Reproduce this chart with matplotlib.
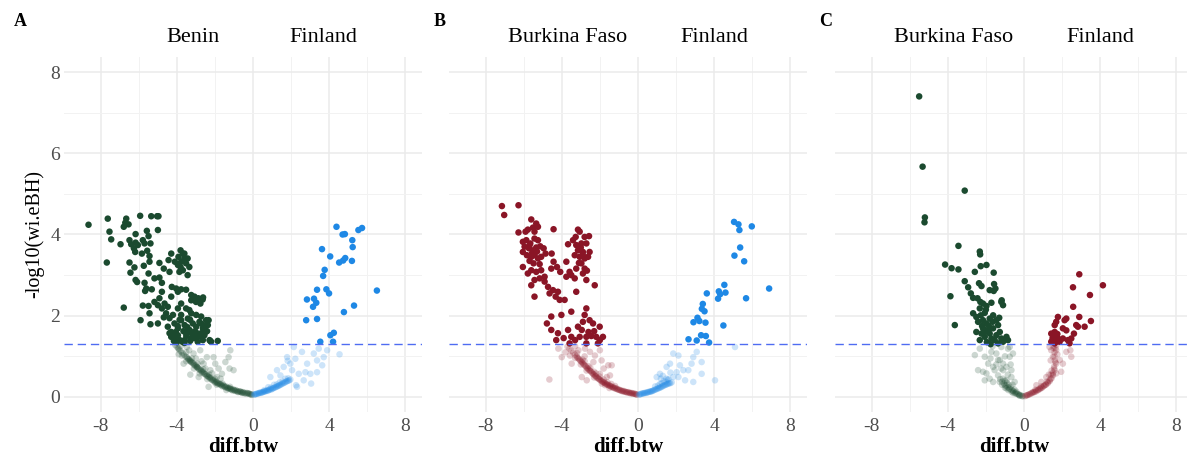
import numpy as np
import matplotlib
matplotlib.use("Agg")
import matplotlib.pyplot as plt

plt.rcParams['font.family'] = ['Liberation Serif', 'DejaVu Serif']

GREEN = "#1b4a2f"
RED = "#8a1526"
BLUE = "#1e88e5"
LINE = "#4f6cf2"
THRESH = 1.30103

# ---------------- panel A : Benin vs Finland ----------------
a_left_sig = [
    (-8.63, 4.24), (-7.62, 4.39), (-7.53, 4.07), (-7.44, 3.88), (-7.67, 3.31), (-6.95, 3.76),
    (-6.78, 2.20), (-6.65, 4.39), (-6.53, 4.25), (-6.78, 4.19), (-6.70, 4.29), (-5.92, 4.46),
    (-5.34, 4.45), (-5.03, 4.45), (-4.96, 4.45), (-4.99, 4.11), (-5.57, 4.09),
    (-6.16, 4.01), (-6.48, 3.86), (-6.39, 3.76), (-6.16, 3.80), (-6.25, 3.66), (-6.04, 3.74),
    (-6.18, 3.57), (-5.78, 3.86), (-5.69, 3.78), (-5.48, 3.96), (-5.38, 3.78), (-5.55, 3.60),
    (-5.43, 3.47), (-5.83, 3.53), (-6.48, 3.31), (-6.22, 3.19), (-6.43, 3.06), (-6.16, 2.88),
    (-6.08, 2.83), (-5.73, 3.23), (-5.43, 3.33), (-5.48, 3.04), (-5.69, 2.81), (-5.60, 2.67),
    (-5.66, 2.61), (-5.31, 2.65), (-5.17, 2.92), (-4.91, 2.94), (-4.78, 2.81), (-4.91, 3.30),
    (-4.68, 3.16), (-4.43, 3.37), (-4.29, 3.53), (-4.38, 3.08), (-4.78, 2.59),
    (-3.80, 3.61), (-3.68, 3.53), (-3.91, 3.45), (-3.77, 3.33), (-3.60, 3.41), (-3.43, 3.41),
    (-3.51, 3.29), (-3.94, 3.25), (-3.86, 3.08), (-3.68, 3.12), (-3.43, 3.00), (-3.34, 3.20),
    (-3.60, 3.53), (-3.80, 3.20), (-4.10, 3.33),
    (-4.26, 2.71), (-4.03, 2.67), (-4.29, 2.47), (-3.94, 2.59), (-3.77, 2.65), (-3.51, 2.64),
    (-3.24, 2.51), (-3.07, 2.47), (-2.87, 2.43), (-2.76, 2.30), (-2.64, 2.40), (-2.99, 2.34),
    (-3.24, 2.38), (-3.51, 2.18), (-3.34, 2.14), (-3.94, 2.18), (-3.77, 2.30),
    (-5.78, 2.25), (-5.48, 2.24), (-5.17, 2.34), (-4.91, 2.43), (-4.99, 2.26), (-4.64, 2.30),
    (-4.78, 2.18), (-4.47, 2.22), (-5.43, 2.06), (-5.90, 1.89), (-5.38, 1.79), (-4.99, 1.81),
    (-4.68, 1.96), (-4.56, 2.06), (-4.38, 1.94), (-4.20, 2.02),
    (-4.47, 1.73), (-4.29, 1.60), (-4.12, 1.81), (-3.94, 1.69), (-3.77, 1.89), (-3.59, 1.77),
    (-3.42, 1.93), (-3.33, 1.65), (-3.16, 1.81), (-2.98, 1.73), (-2.81, 1.85), (-2.63, 1.69),
    (-2.46, 1.89), (-2.37, 1.77), (-2.46, 1.61), (-2.72, 1.57), (-3.07, 1.61), (-3.51, 1.57),
    (-3.94, 1.52), (-4.12, 1.48), (-4.29, 1.48), (-4.38, 1.57), (-3.86, 1.40), (-3.59, 1.40),
    (-3.24, 1.44), (-2.90, 1.48), (-2.63, 1.40), (-2.28, 1.40), (-2.20, 1.36), (-1.85, 1.38),
    (-3.77, 2.02), (-3.24, 2.06), (-2.98, 2.02), (-2.72, 1.98), (-2.62, 2.45), (-2.33, 1.89),
    (-2.41, 1.62), (-2.24, 1.38), (-4.00, 1.35), (-3.90, 1.42), (-3.70, 1.36), (-3.50, 1.50),
    (-3.30, 1.38), (-3.10, 1.45), (-2.90, 1.36), (-4.05, 1.60), (-3.95, 1.75), (-3.65, 1.62),
    (-3.45, 1.72), (-3.20, 1.55), (-3.00, 1.60), (-2.80, 1.50), (-2.55, 1.52), (-2.50, 1.75),
    (-2.70, 1.80), (-3.30, 1.90), (-3.85, 1.90), (-4.10, 1.55), (-4.15, 1.38), (-3.60, 1.33),
]
a_left_faint = [
    (-0.05, 0.06), (-0.12, 0.07), (-0.20, 0.08), (-0.27, 0.09), (-0.35, 0.08), (-0.41, 0.10),
    (-0.50, 0.11), (-0.56, 0.10), (-0.63, 0.12), (-0.70, 0.13), (-0.78, 0.12), (-0.85, 0.15),
    (-0.93, 0.15), (-1.00, 0.17), (-1.08, 0.16), (-1.15, 0.19), (-1.22, 0.20), (-1.30, 0.21),
    (-1.37, 0.23), (-1.45, 0.24), (-1.52, 0.27), (-1.60, 0.26), (-1.68, 0.30), (-1.75, 0.31),
    (-1.83, 0.33), (-1.90, 0.36), (-1.97, 0.35), (-2.05, 0.40), (-2.12, 0.41), (-2.20, 0.45),
    (-2.27, 0.46), (-2.35, 0.50), (-2.42, 0.52), (-2.50, 0.55), (-2.57, 0.58), (-2.65, 0.60),
    (-2.72, 0.65), (-2.80, 0.66), (-2.88, 0.71), (-2.95, 0.74), (-3.03, 0.76), (-3.10, 0.80),
    (-3.18, 0.84), (-3.25, 0.86), (-3.33, 0.90), (-3.40, 0.93), (-3.48, 0.98), (-3.55, 1.00),
    (-3.63, 1.04), (-3.70, 1.08), (-3.78, 1.12), (-3.85, 1.15), (-3.93, 1.20), (-4.00, 1.24),
    (-4.08, 1.28), (-1.20, 0.25), (-1.60, 0.33), (-2.00, 0.45), (-2.30, 0.55), (-2.60, 0.68),
    (-2.90, 0.82), (-3.20, 0.95), (-3.50, 1.10), (-3.80, 1.25), (-1.40, 0.17), (-1.90, 0.30),
    (-2.40, 0.44), (-2.80, 0.58), (-3.10, 0.70), (-3.50, 0.88), (-3.90, 1.05),
    (-3.29, 0.55), (-2.33, 0.25), (-1.19, 1.15), (-1.28, 0.98), (-1.23, 0.70), (-1.02, 0.66),
    (-1.45, 0.86), (-1.63, 0.57), (-1.98, 0.82), (-2.42, 0.98), (-2.77, 1.15), (-3.12, 1.07),
    (-3.47, 1.23), (-3.73, 1.02), (-3.64, 0.82), (-2.94, 0.74), (-2.59, 0.82), (-2.24, 0.66),
    (-1.89, 0.49), (-3.29, 0.90), (-3.90, 1.19), (-2.07, 0.98), (-1.80, 0.70), (-2.85, 0.49),
    (-3.00, 0.95), (-2.70, 0.88), (-3.35, 1.15), (-2.50, 0.70), (-1.70, 0.45), (-2.15, 0.58),
]
a_left_band = [
    (-0.08, 0.05), (-0.16, 0.07), (-0.24, 0.09), (-0.32, 0.10), (-0.45, 0.09), (-0.53, 0.12),
    (-0.60, 0.11), (-0.67, 0.14), (-0.75, 0.14), (-0.82, 0.13), (-0.90, 0.17), (-0.97, 0.16),
    (-1.04, 0.19), (-1.12, 0.18), (-1.19, 0.21), (-1.26, 0.22), (-1.33, 0.22), (-1.41, 0.26),
    (-1.48, 0.25), (-1.56, 0.29), (-1.64, 0.28), (-1.71, 0.32), (-1.79, 0.34), (-1.86, 0.33),
    (-1.94, 0.38), (-2.01, 0.37), (-2.09, 0.43), (-2.16, 0.42), (-2.24, 0.48), (-2.31, 0.49),
    (-2.39, 0.52), (-2.46, 0.56), (-2.54, 0.57), (-2.61, 0.62), (-2.69, 0.63), (-2.76, 0.68),
    (-2.84, 0.69), (-2.92, 0.73), (-2.99, 0.78), (-3.07, 0.79), (-3.14, 0.83), (-3.22, 0.86),
    (-3.30, 0.88), (-3.37, 0.93), (-3.44, 0.96),
]
a_right_sig = [
    (4.38, 4.19), (4.70, 4.00), (4.82, 4.01), (5.53, 4.11), (5.72, 4.16), (5.21, 3.86),
    (5.23, 3.69), (3.62, 3.64), (4.05, 3.46), (4.52, 3.31), (4.73, 3.36), (4.84, 3.42),
    (5.19, 3.35), (3.76, 3.13), (3.68, 2.98), (3.36, 2.64), (3.85, 2.65), (3.99, 2.55),
    (6.50, 2.62), (2.83, 2.40), (3.20, 2.42), (3.32, 2.32), (3.15, 2.22), (5.30, 2.25),
    (4.77, 2.09), (2.79, 1.89), (3.36, 1.92), (4.24, 1.58), (4.06, 1.52), (3.53, 1.36),
    (4.20, 1.36),
]
a_right_faint = [
    (0.05, 0.06), (0.12, 0.07), (0.20, 0.08), (0.28, 0.09), (0.35, 0.10), (0.42, 0.10),
    (0.50, 0.12), (0.58, 0.13), (0.66, 0.14), (0.74, 0.16), (0.82, 0.17), (0.90, 0.19),
    (1.00, 0.20), (1.08, 0.22), (1.18, 0.24), (1.27, 0.26), (1.36, 0.28), (1.45, 0.30),
    (1.55, 0.33), (1.65, 0.35), (1.75, 0.38), (1.85, 0.40), (1.96, 0.43), (0.80, 0.24),
    (1.10, 0.30), (1.40, 0.36), (1.70, 0.45), (0.91, 0.49), (1.26, 0.66), (1.79, 0.98),
    (2.14, 1.23), (2.57, 1.11), (2.84, 0.82), (3.19, 1.07), (3.36, 0.90), (3.63, 0.78),
    (3.01, 0.57), (2.66, 0.41), (2.31, 0.25), (3.71, 0.98), (3.89, 1.15), (4.54, 1.05),
    (1.96, 0.82), (2.05, 0.66), (1.61, 0.74), (1.44, 0.53), (2.40, 0.57), (2.75, 0.61),
    (3.36, 0.61), (3.05, 0.33), (2.26, 0.29), (1.82, 0.89), (2.22, 0.94), (3.45, 1.19),
]
a_right_band = [
    (0.08, 0.06), (0.16, 0.07), (0.24, 0.08), (0.32, 0.10), (0.40, 0.11), (0.48, 0.11),
    (0.54, 0.13), (0.62, 0.14), (0.70, 0.15), (0.78, 0.15), (0.86, 0.18), (0.95, 0.18),
    (1.04, 0.21), (1.13, 0.23), (1.22, 0.25), (1.31, 0.27), (1.40, 0.29), (1.50, 0.32),
    (1.60, 0.34), (1.70, 0.37), (1.80, 0.39), (1.90, 0.41), (0.60, 0.17), (0.95, 0.23),
    (1.25, 0.31), (1.55, 0.38), (1.85, 0.46),
]

# ---------------- panel B : Burkina Faso vs Finland ----------------
b_left_sig = [
    (-7.14, 4.70), (-6.27, 4.72), (-7.02, 4.48), (-5.60, 4.37), (-5.34, 4.27), (-5.25, 4.19),
    (-5.51, 4.17), (-5.78, 4.12), (-5.90, 4.07), (-6.27, 4.05), (-5.43, 4.07), (-4.43, 4.13),
    (-6.04, 3.82), (-5.86, 3.86), (-5.65, 3.78), (-5.43, 3.90), (-5.25, 3.86), (-5.95, 3.70),
    (-5.72, 3.66), (-5.51, 3.61), (-5.34, 3.68), (-5.13, 3.71), (-4.95, 3.66), (-6.04, 3.57),
    (-5.83, 3.49), (-5.60, 3.45), (-5.43, 3.49), (-5.25, 3.41), (-5.08, 3.45), (-4.85, 3.53),
    (-5.69, 3.35), (-5.48, 3.29), (-5.16, 3.27), (-6.04, 3.20), (-5.60, 3.12), (-5.78, 3.04),
    (-5.34, 3.08), (-5.08, 3.12), (-4.90, 2.96), (-5.55, 3.55), (-5.30, 3.58), (-5.70, 3.72),
    (-3.15, 4.12), (-3.06, 4.07), (-3.27, 3.94), (-2.80, 3.94), (-2.57, 3.96), (-3.67, 3.76),
    (-3.41, 3.86), (-3.24, 3.74), (-2.97, 3.78), (-2.71, 3.78), (-2.54, 3.57), (-3.15, 3.61),
    (-2.89, 3.57), (-3.32, 3.49), (-3.06, 3.45), (-2.80, 3.41), (-2.62, 3.45), (-2.97, 3.29),
    (-2.80, 3.16), (-3.24, 3.16), (-3.76, 3.33), (-3.59, 3.08), (-2.89, 3.04), (-2.68, 3.11),
    (-3.00, 3.68), (-2.90, 3.50), (-3.10, 3.30),
    (-4.53, 3.53), (-4.43, 3.33), (-4.55, 3.16), (-4.25, 3.20), (-4.08, 3.08), (-3.76, 2.96),
    (-3.50, 3.00), (-3.32, 2.92), (-2.71, 2.88), (-2.27, 2.75),
    (-5.60, 2.75), (-5.43, 2.88), (-5.16, 2.92), (-4.90, 2.84), (-4.72, 2.71), (-4.46, 2.63),
    (-4.64, 2.55), (-4.32, 2.47), (-4.11, 2.39), (-3.85, 2.39), (-5.43, 2.47), (-3.24, 2.59),
    (-4.20, 2.59),
    (-4.55, 1.98), (-4.02, 2.02), (-3.50, 2.10), (-2.71, 2.18), (-2.80, 2.02), (-2.54, 1.89),
    (-2.89, 1.85), (-3.15, 1.73), (-2.36, 1.81), (-2.01, 1.73), (-1.84, 1.48), (-2.19, 1.48),
    (-2.71, 1.48), (-3.06, 1.48), (-3.50, 1.48), (-3.67, 1.65), (-4.20, 1.57), (-4.55, 1.65),
    (-4.78, 1.81), (-4.29, 1.40), (-2.71, 1.32), (-3.59, 1.32), (-2.10, 1.32), (-2.60, 1.60),
    (-2.45, 1.50), (-2.95, 1.65), (-3.30, 1.40), (-2.30, 1.62), (-2.00, 1.40), (-3.90, 1.45),
]
b_left_faint = [
    (-0.05, 0.06), (-0.13, 0.07), (-0.21, 0.08), (-0.30, 0.09), (-0.38, 0.09), (-0.46, 0.10),
    (-0.55, 0.11), (-0.63, 0.12), (-0.72, 0.13), (-0.80, 0.14), (-0.88, 0.15), (-0.97, 0.17),
    (-1.05, 0.18), (-1.14, 0.20), (-1.22, 0.21), (-1.31, 0.23), (-1.40, 0.25), (-1.48, 0.27),
    (-1.57, 0.29), (-1.65, 0.31), (-1.74, 0.34), (-1.82, 0.36), (-1.91, 0.39), (-2.00, 0.42),
    (-2.08, 0.45), (-2.17, 0.48), (-2.25, 0.52), (-2.34, 0.56), (-2.42, 0.60), (-2.51, 0.64),
    (-2.60, 0.68), (-2.69, 0.72), (-2.78, 0.77), (-2.87, 0.81), (-2.95, 0.86), (-3.04, 0.90),
    (-3.13, 0.95), (-3.22, 1.00), (-3.31, 1.04), (-3.40, 1.09), (-3.50, 1.14), (-3.60, 1.19),
    (-3.70, 1.24), (-1.20, 0.27), (-1.60, 0.36), (-2.00, 0.50), (-2.30, 0.62), (-2.60, 0.76),
    (-2.90, 0.92), (-3.20, 1.08), (-1.50, 0.22), (-1.90, 0.33), (-2.30, 0.48), (-2.70, 0.65),
    (-3.00, 0.80), (-3.30, 0.96),
    (-4.65, 0.43), (-4.18, 1.19), (-4.00, 0.98), (-3.57, 1.02), (-2.95, 0.49), (-2.34, 0.86),
    (-2.00, 1.15), (-1.56, 0.78), (-1.38, 0.78), (-1.47, 0.53), (-1.73, 0.29), (-1.64, 0.49),
    (-2.26, 1.02), (-2.52, 1.11), (-1.91, 0.90), (-2.78, 1.19), (-3.13, 1.15), (-3.48, 0.82),
    (-2.00, 0.57), (-2.69, 0.41), (-3.80, 1.10), (-3.30, 1.25), (-2.80, 1.00), (-1.80, 0.70),
]
b_left_band = [
    (-0.09, 0.06), (-0.17, 0.08), (-0.26, 0.08), (-0.34, 0.10), (-0.42, 0.10), (-0.50, 0.12),
    (-0.59, 0.12), (-0.67, 0.13), (-0.76, 0.15), (-0.84, 0.15), (-0.93, 0.17), (-1.01, 0.18),
    (-1.10, 0.20), (-1.18, 0.22), (-1.27, 0.23), (-1.35, 0.25), (-1.44, 0.27), (-1.52, 0.29),
    (-1.61, 0.31), (-1.70, 0.33), (-1.78, 0.36), (-1.87, 0.38), (-1.95, 0.41), (-2.04, 0.44),
    (-2.12, 0.47), (-2.21, 0.51), (-2.30, 0.55), (-2.38, 0.58), (-2.47, 0.63), (-2.55, 0.66),
    (-2.64, 0.70), (-2.73, 0.75), (-2.82, 0.79), (-2.91, 0.84), (-3.00, 0.88), (-3.09, 0.93),
    (-3.18, 0.97), (-2.20, 0.58), (-2.50, 0.72), (-2.80, 0.88), (-1.40, 0.32), (-1.80, 0.43),
]
b_right_sig = [
    (5.04, 4.31), (5.27, 4.25), (5.32, 4.11), (5.97, 4.20), (5.36, 3.68), (5.06, 3.48),
    (5.57, 3.34), (4.53, 2.76), (4.24, 2.60), (4.31, 2.53), (4.59, 2.57), (4.20, 2.42),
    (6.88, 2.67), (5.67, 2.43), (3.61, 2.55), (3.40, 2.29), (3.35, 2.17), (3.49, 2.11),
    (3.12, 1.95), (3.22, 1.87), (2.91, 1.84), (3.54, 1.83), (4.48, 1.76), (2.65, 1.42),
    (3.08, 1.39), (3.31, 1.52), (3.56, 1.50), (3.73, 1.34),
]
b_right_faint = [
    (0.05, 0.06), (0.13, 0.07), (0.22, 0.08), (0.30, 0.09), (0.38, 0.10), (0.47, 0.11),
    (0.55, 0.12), (0.64, 0.13), (0.72, 0.14), (0.80, 0.16), (0.90, 0.18), (1.00, 0.20),
    (1.10, 0.22), (1.20, 0.24), (1.30, 0.27), (1.40, 0.29), (1.50, 0.31), (1.60, 0.33),
    (1.70, 0.34), (1.77, 0.36), (0.90, 0.26), (1.15, 0.32), (1.35, 0.38), (1.55, 0.42),
    (0.98, 0.49), (1.15, 0.57), (1.50, 0.74), (1.85, 1.07), (2.12, 1.02), (2.38, 0.66),
    (2.64, 0.66), (2.81, 0.82), (2.90, 0.98), (3.08, 1.11), (3.34, 0.86), (3.34, 0.57),
    (2.90, 0.37), (4.04, 0.41), (5.09, 1.23), (2.20, 0.78), (2.03, 0.61), (1.68, 0.82),
    (2.12, 0.49), (2.47, 0.41), (1.50, 0.45), (1.85, 0.49), (1.30, 0.52), (1.70, 0.60),
]
b_right_band = [
    (0.09, 0.06), (0.17, 0.08), (0.26, 0.09), (0.34, 0.10), (0.43, 0.10), (0.51, 0.12),
    (0.60, 0.13), (0.68, 0.14), (0.76, 0.15), (0.85, 0.17), (0.95, 0.19), (1.05, 0.21),
    (1.15, 0.23), (1.25, 0.25), (1.35, 0.28), (1.45, 0.30), (1.55, 0.32), (1.65, 0.34),
    (1.05, 0.28), (1.25, 0.34), (1.45, 0.38), (1.60, 0.44), (1.20, 0.45),
]

# ---------------- panel C : Burkina Faso vs Finland ----------------
c_left_sig = [
    (-5.50, 7.40), (-5.32, 5.67), (-3.11, 5.08), (-5.20, 4.42), (-5.22, 4.30), (-3.44, 3.72),
    (-2.32, 3.58), (-2.30, 3.51), (-4.14, 3.26), (-3.80, 3.17), (-3.44, 3.14), (-2.27, 3.22),
    (-1.97, 3.25), (-2.58, 3.08), (-1.59, 3.06), (-3.11, 2.85), (-2.36, 2.80), (-2.23, 2.73),
    (-1.57, 2.78), (-1.50, 2.67), (-1.80, 2.63), (-1.59, 2.61), (-2.93, 2.70), (-2.79, 2.55),
    (-2.67, 2.44), (-3.86, 2.48), (-2.44, 2.43), (-2.29, 2.34), (-2.15, 2.30), (-1.71, 2.32),
    (-1.97, 2.24), (-2.32, 2.18), (-1.17, 2.38), (-1.10, 2.26), (-1.19, 2.34), (-3.63, 1.77),
    (-2.67, 2.06), (-2.50, 1.97), (-2.27, 2.01), (-2.06, 2.07), (-2.41, 1.85), (-2.15, 1.89),
    (-1.97, 1.81), (-1.80, 1.93), (-1.62, 2.01), (-1.45, 1.89), (-1.36, 1.77), (-1.62, 1.69),
    (-1.88, 1.64), (-2.15, 1.69), (-2.23, 1.56), (-1.80, 1.56), (-1.45, 1.52), (-1.27, 1.60),
    (-1.19, 1.44), (-1.54, 1.40), (-1.71, 1.44), (-2.50, 1.60), (-2.32, 1.40), (-2.06, 1.48),
    (-1.10, 1.36), (-0.92, 1.48), (-0.84, 1.40), (-1.36, 1.32), (-2.00, 2.15), (-1.85, 1.75),
    (-1.65, 1.85), (-2.20, 1.75), (-1.30, 1.95), (-1.95, 1.35), (-1.75, 1.30), (-2.05, 1.60),
]
c_left_faint = [
    (-2.58, 1.03), (-2.32, 1.19), (-2.06, 0.99), (-1.97, 0.58), (-1.80, 0.45), (-1.62, 0.74),
    (-1.45, 1.07), (-1.27, 0.91), (-1.10, 0.66), (-0.92, 0.41), (-0.75, 0.99), (-0.66, 0.66),
    (-0.84, 1.19), (-1.19, 1.23), (-1.71, 1.11), (-1.88, 0.82), (-2.15, 0.62), (-1.62, 0.37),
    (-1.36, 0.53), (-1.01, 0.29), (-0.79, 0.21), (-0.58, 0.15), (-0.40, 0.08), (-0.23, 0.04),
    (-0.49, 0.37), (-0.66, 0.49), (-1.10, 0.82), (-1.36, 0.91), (-0.92, 0.74), (-1.54, 0.66),
    (-1.76, 0.95), (-0.75, 1.23), (-0.58, 1.07), (-2.41, 0.66), (-2.06, 0.41), (-1.27, 0.37),
    (-0.92, 0.21), (-0.58, 0.10), (-0.23, 0.03), (-0.10, 0.02), (-0.30, 0.06), (-0.48, 0.09),
    (-0.65, 0.13), (-0.82, 0.17), (-1.00, 0.23), (-1.15, 0.30), (-0.70, 0.80), (-1.00, 1.00),
    (-1.20, 0.70), (-0.85, 0.55), (-1.45, 0.80), (-1.65, 1.25), (-0.60, 0.30),
]
c_left_band = [
    (-0.05, 0.02), (-0.15, 0.04), (-0.25, 0.06), (-0.35, 0.08), (-0.45, 0.11), (-0.55, 0.14),
    (-0.65, 0.17), (-0.75, 0.20), (-0.85, 0.24), (-0.95, 0.28), (-1.05, 0.33), (-1.15, 0.38),
    (-1.25, 0.44), (-0.50, 0.18), (-0.70, 0.25), (-0.90, 0.35), (-1.10, 0.45), (-0.40, 0.13),
    (-0.80, 0.30), (-1.00, 0.40),
]
c_right_sig = [
    (2.90, 3.02), (4.14, 2.75), (2.57, 2.70), (3.46, 2.51), (2.58, 2.22), (2.90, 1.97),
    (3.51, 1.87), (2.22, 1.93), (2.13, 1.89), (1.78, 1.97), (1.69, 1.85), (1.61, 1.77),
    (2.04, 1.69), (2.22, 1.64), (2.74, 1.77), (2.83, 1.73), (3.18, 1.73), (2.62, 1.56),
    (1.43, 1.56), (1.52, 1.52), (1.61, 1.60), (1.69, 1.48), (1.78, 1.44), (1.52, 1.40),
    (1.43, 1.36), (1.69, 1.36), (1.87, 1.36), (1.61, 1.32), (2.04, 1.44), (2.48, 1.44),
    (2.30, 1.40), (2.39, 1.32), (1.50, 1.45), (1.75, 1.55), (1.60, 1.42),
]
c_right_faint = [
    (0.12, 0.04), (0.47, 0.12), (0.82, 0.21), (1.08, 0.29), (1.34, 0.41), (1.52, 0.53),
    (1.61, 0.66), (1.69, 0.82), (1.52, 0.99), (1.43, 1.15), (1.34, 1.23), (1.69, 1.15),
    (1.87, 0.91), (2.04, 0.82), (1.95, 0.62), (1.69, 0.58), (1.17, 0.49), (0.91, 0.37),
    (0.65, 0.29), (2.48, 0.99), (2.43, 1.15), (2.22, 1.11), (0.20, 0.05), (0.30, 0.07),
    (0.40, 0.10), (0.55, 0.13), (0.65, 0.16), (0.75, 0.18), (0.90, 0.22), (1.00, 0.26),
    (1.15, 0.31), (1.25, 0.36), (1.40, 0.45), (1.50, 0.55), (1.58, 0.70), (1.65, 0.85),
    (1.60, 1.00), (1.55, 1.20), (1.45, 0.65), (1.30, 0.55), (1.75, 1.05), (1.40, 0.90),
]
c_right_band = [
    (0.05, 0.02), (0.15, 0.04), (0.25, 0.06), (0.35, 0.08), (0.45, 0.10), (0.55, 0.12),
    (0.65, 0.14), (0.75, 0.17), (0.85, 0.20), (0.95, 0.23), (1.05, 0.27), (1.15, 0.30),
    (1.25, 0.34), (1.35, 0.39), (1.45, 0.46), (1.52, 0.60), (1.58, 0.75), (1.62, 0.90),
    (1.60, 1.10), (1.55, 1.25), (0.60, 0.18), (0.90, 0.26), (1.20, 0.38), (1.40, 0.55),
    (1.65, 1.20), (1.70, 1.28),
]

panel_letters = ["A", "B", "C"]
group_left = ["Benin", "Burkina Faso", "Burkina Faso"]
group_right = ["Finland", "Finland", "Finland"]
label_x = [(-3.15, 3.67), (-3.7, 4.0), (-3.7, 4.0)]

panels = [
    (a_left_sig, a_left_faint + a_left_band, GREEN, a_right_sig, a_right_faint + a_right_band, BLUE),
    (b_left_sig, b_left_faint + b_left_band, RED, b_right_sig, b_right_faint + b_right_band, BLUE),
    (c_left_sig, c_left_faint + c_left_band, GREEN, c_right_sig, c_right_faint + c_right_band, RED),
]

W, H = 1187, 458
fig = plt.figure(figsize=(W / 100, H / 100), dpi=100)

xlim = (-9.9, 8.88)
ylim = (-0.37, 8.37)
zero_px = [253, 638, 1024]
unit_px = 19.06
top_px, bot_px = 57, 412

for i, (ls, lf, lc, rs, rf, rc) in enumerate(panels):
    left_px = zero_px[i] + xlim[0] * unit_px
    width_px = (xlim[1] - xlim[0]) * unit_px
    ax = fig.add_axes([left_px / W, 1 - bot_px / H, width_px / W, (bot_px - top_px) / H])
    ax.set_xlim(*xlim)
    ax.set_ylim(*ylim)
    for s in ax.spines.values():
        s.set_visible(False)
    ax.set_xticks([-8, -4, 0, 4, 8])
    ax.set_xticks([-6, -2, 2, 6], minor=True)
    ax.set_yticks([0, 2, 4, 6, 8])
    ax.set_yticks([1, 3, 5, 7], minor=True)
    ax.grid(which='major', color='#ebebeb', lw=1.1)
    ax.grid(which='minor', color='#f2f2f2', lw=0.7)
    ax.set_axisbelow(True)
    ax.tick_params(which='both', length=0, labelsize=14, labelcolor='#4d4d4d')
    ax.tick_params(axis='x', pad=4)
    ax.tick_params(axis='y', pad=3)
    ax.set_xticklabels(['-8', '-4', '0', '4', '8'])
    if i == 0:
        ax.set_ylabel('-log10(wi.eBH)', fontsize=14.5, labelpad=4)
    else:
        ax.set_yticklabels([])

    for pts, col in ((lf, lc), (rf, rc)):
        arr = np.array(pts)
        ax.scatter(arr[:, 0], arr[:, 1], s=22, color=col, alpha=0.22, edgecolors='none')
    ax.axhline(THRESH, color=LINE, lw=1.0, ls=(0, (6, 3.5)))
    for pts, col in ((ls, lc), (rs, rc)):
        arr = np.array(pts)
        ax.scatter(arr[:, 0], arr[:, 1], s=22, color=col, edgecolors='none')

    ax.set_xlabel('diff.btw', fontsize=15, fontweight='bold', labelpad=2)

    lx, rx = label_x[i]
    ax.text(lx, 8.85, group_left[i], ha='center', va='center', fontsize=16)
    ax.text(rx, 8.85, group_right[i], ha='center', va='center', fontsize=16)

letter_px = [20, 440, 826]
for lp, letter in zip(letter_px, panel_letters):
    fig.text(lp / W, 1 - 21 / H, letter, ha='center', va='center', fontsize=13, fontweight='bold')

fig.savefig('out.png', dpi=100)
